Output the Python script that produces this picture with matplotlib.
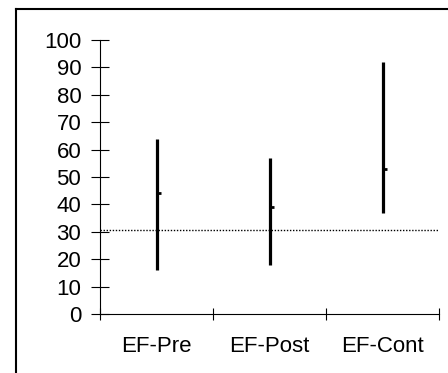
import numpy as np
import matplotlib.pyplot as plt
from matplotlib.lines import Line2D

# values
categories = ["EF-Pre", "EF-Post", "EF-Cont"]
lows = [16, 18, 37]
highs = [64, 57, 92]
means = [44, 39, 53]
ref_level = 30.7
yticks = [0, 10, 20, 30, 40, 50, 60, 70, 80, 90, 100]

plt.rcParams['font.family'] = ['Liberation Sans', 'DejaVu Sans']

W, H = 448, 373
fig = plt.figure(figsize=(W / 100, H / 100), dpi=100)
ax = fig.add_axes([100 / W, 1 - 314 / H, 339 / W, 274 / H])

x = np.arange(len(categories)) + 0.5
ax.vlines(x, lows, highs, color='black', lw=2.3)
ax.plot(x, means, linestyle='none', marker=1, color='black', ms=3, mew=2)
ax.axhline(ref_level, color='black', lw=1, linestyle=(0, (1, 1.2)))

ax.set_xlim(0, len(categories))
ax.set_ylim(0, 100)
ax.set_yticks(yticks)
ax.set_xticks(np.arange(len(categories) + 1))
ax.set_xticklabels([])
ax.set_xticks(x, minor=True)
ax.set_xticklabels(categories, minor=True)

ax.spines['top'].set_visible(False)
ax.spines['right'].set_visible(False)
for s in ['left', 'bottom']:
    ax.spines[s].set_linewidth(0.8)

ax.tick_params(axis='y', direction='inout', length=13, width=0.8, labelsize=16, pad=7)
ax.tick_params(axis='x', which='major', direction='inout', length=9, width=0.8)
ax.tick_params(axis='x', which='minor', length=0, labelsize=16, pad=16)

# outer frame
fig.add_artist(Line2D([16 / W, 16 / W], [0, 1 - 9 / H], color='black', lw=1.5))
fig.add_artist(Line2D([16 / W, 1], [1 - 9 / H, 1 - 9 / H], color='black', lw=1.5))

fig.savefig("out.png", dpi=100)
